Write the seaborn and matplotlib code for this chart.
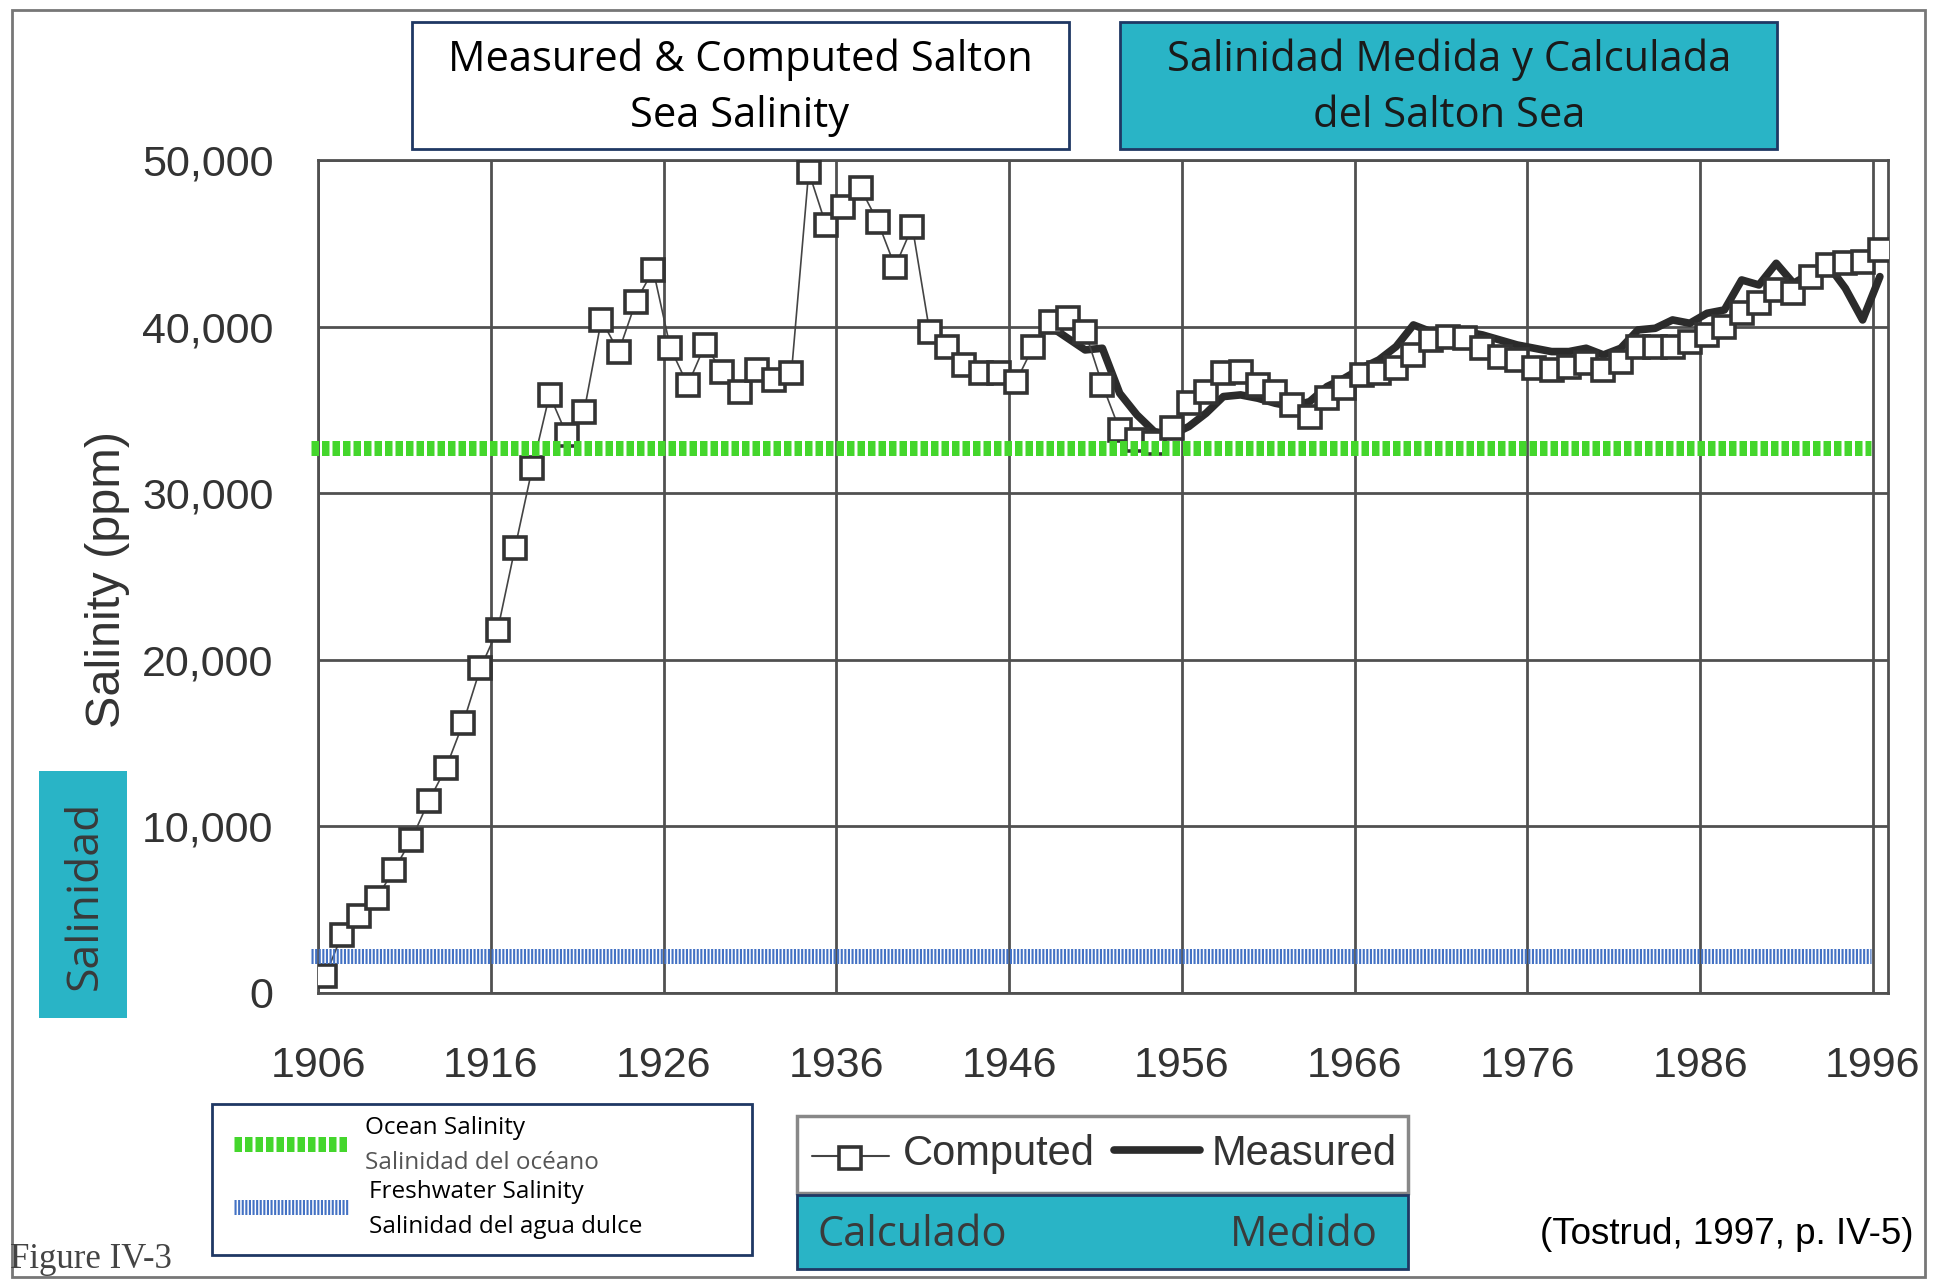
import matplotlib
matplotlib.use("Agg")
import matplotlib.pyplot as plt
import seaborn as sns
import pandas as pd
from matplotlib.patches import Rectangle
from matplotlib.lines import Line2D
from matplotlib.ticker import FuncFormatter

# ---------------- data ----------------
computed_years = list(range(1906, 1997))
computed_salinity = [
    1000, 3500, 4600, 5700, 7400, 9200, 11500, 13500, 16200, 19500,
    21800, 26700, 31500, 35900, 33500, 34900, 40400, 38500, 41500, 43400,
    38700, 36500, 38900, 37300, 36100, 37400, 36800, 37200, 49300, 46100,
    47200, 48300, 46300, 43600, 46000, 39700, 38800, 37700, 37200, 37200,
    36700, 38800, 40300, 40500, 39700, 36500, 33800, 33200, 33000, 33900,
    35400, 36100, 37200, 37300, 36500, 36100, 35300, 34600, 35700, 36300,
    37100, 37200, 37500, 38300, 39200, 39400, 39300, 38700, 38200, 38000,
    37500, 37400, 37600, 37800, 37400, 37900, 38800, 38800, 38800, 39100,
    39500, 40000, 40800, 41400, 42200, 42000, 43000, 43700, 43800, 43900,
    44600,
]
measured_years = list(range(1948, 1997))
measured_salinity = [
    40000, 39300, 38600, 38700, 36000, 34700, 33700, 33500, 34000, 34800,
    35800, 35900, 35700, 35400, 35200, 35500, 36400, 36900, 37500, 38000,
    38800, 40100, 39700, 39800, 39700, 39500, 39200, 38900, 38700, 38500,
    38500, 38700, 38300, 38700, 39800, 39900, 40400, 40200, 40800, 41000,
    42800, 42500, 43800, 42600, 43200, 43700, 42300, 40400, 43000,
]
ocean_salinity = 32700
freshwater_salinity = 2250
reference_span = [1905.6, 1995.9]

x_ticks = list(range(1906, 1997, 10))
y_ticks = [0, 10000, 20000, 30000, 40000, 50000]

title_en = "Measured & Computed Salton\nSea Salinity"
title_es = "Salinidad Medida y Calculada\ndel Salton Sea"
y_label = "Salinity (ppm)"
y_label_es = "Salinidad"
legend_ref = ["Ocean Salinity", "Salinidad del océano",
              "Freshwater Salinity", "Salinidad del agua dulce"]
legend_series = ["Computed", "Measured"]
legend_series_es = ["Calculado", "Medido"]
source_note = "(Tostrud, 1997, p. IV-5)"
figure_note = "Figure IV-3"

# ---------------- style ----------------
sns.set_theme(style="white")
plt.rcParams["font.family"] = ["Liberation Sans", "DejaVu Sans"]

W, H = 1935, 1281
def fx(x):
    return x / W
def fy(y):
    return 1 - y / H

GRID = "#505050"
DARK = "#2b2b2b"
TEAL = "#29b4c6"
NAVY = "#1f3864"
GREEN = "#44d62c"
BLUE = "#4472c4"

fig = plt.figure(figsize=(W / 100, H / 100), dpi=100)
fig.patch.set_facecolor("white")
ax = fig.add_axes([fx(318), fy(993), (1888 - 318) / W, (993 - 160) / H])

df_c = pd.DataFrame({"year": [y + 0.4 for y in computed_years], "salinity": computed_salinity})
df_m = pd.DataFrame({"year": [y + 0.4 for y in measured_years], "salinity": measured_salinity})

sns.lineplot(data=df_m, x="year", y="salinity", ax=ax, color=DARK, lw=5.5,
             zorder=3)
sns.lineplot(data=df_c, x="year", y="salinity", ax=ax, color="#444444", lw=1.2,
             marker="s", markersize=16.5, markerfacecolor="white",
             markeredgecolor="#333333", markeredgewidth=2.6, zorder=4)

# reference levels
ax.plot(reference_span, [ocean_salinity] * 2, color=GREEN, lw=10.8,
        dashes=(0.5, 0.2), dash_capstyle="butt", solid_capstyle="butt",
        clip_on=False, zorder=6)
ax.plot(reference_span, [freshwater_salinity] * 2, color=BLUE, lw=10.8,
        dashes=(0.14, 0.1), dash_capstyle="butt", clip_on=False, zorder=6)

ax.set_xlim(1906, 1996.87)
ax.set_ylim(0, 50000)
ax.set_xticks(x_ticks)
ax.set_xticklabels([str(t) for t in x_ticks])
ax.set_yticks(y_ticks)
ax.yaxis.set_major_formatter(FuncFormatter(lambda v, p: f"{int(v):,}"))
ax.grid(True, color=GRID, lw=2.0)
ax.set_axisbelow(True)
ax.tick_params(axis="both", length=0, colors="#333333")
ax.tick_params(axis="y", labelsize=31, pad=32)
ax.tick_params(axis="x", labelsize=31, pad=38)
for s in ax.spines.values():
    s.set_color(GRID)
    s.set_linewidth(2)
ax.set_xlabel("")
ax.set_ylabel(y_label, fontsize=35, color="#333333")
ax.yaxis.set_label_coords((130 - 318) / 1570, (993 - 580) / 833)

# page border
fig.add_artist(Rectangle((fx(12), fy(1277)), (1925 - 12) / W, (1277 - 10) / H,
                         transform=fig.transFigure, fill=False, ec="#777777", lw=2))

# title boxes
fig.add_artist(Rectangle((fx(412), fy(149)), (1069 - 412) / W, (149 - 22) / H,
                         transform=fig.transFigure, fc="white", ec=NAVY, lw=2))
fig.text(fx(740), fy(88), title_en, ha="center", va="center", fontsize=30,
         family="Open Sans", color="black", linespacing=1.45)
fig.add_artist(Rectangle((fx(1120), fy(149)), (1777 - 1120) / W, (149 - 22) / H,
                         transform=fig.transFigure, fc=TEAL, ec=NAVY, lw=2))
fig.text(fx(1449), fy(88), title_es, ha="center", va="center", fontsize=30,
         family="Open Sans", color="#1a1a1a", linespacing=1.45)

# Salinidad box
fig.add_artist(Rectangle((fx(39), fy(1018)), (127 - 39) / W, (1018 - 771) / H,
                         transform=fig.transFigure, fc=TEAL, ec="none"))
fig.text(fx(85), fy(895), y_label_es, ha="center", va="center", rotation=90,
         fontsize=32, family="Open Sans", color="#3a3a3a")

# legend box 1
fig.add_artist(Rectangle((fx(212), fy(1255)), (752 - 212) / W, (1255 - 1104) / H,
                         transform=fig.transFigure, fc="white", ec=NAVY, lw=2))
fig.add_artist(Line2D([fx(234), fx(348)], [fy(1144), fy(1144)], transform=fig.transFigure,
                      color=GREEN, lw=10.8, dashes=(0.5, 0.2), dash_capstyle="butt"))
fig.add_artist(Line2D([fx(234), fx(348)], [fy(1207), fy(1207)], transform=fig.transFigure,
                      color=BLUE, lw=10.8, dashes=(0.14, 0.1), dash_capstyle="butt"))
fig.text(fx(365), fy(1128), legend_ref[0], ha="left", va="center", fontsize=17.5,
         family="Open Sans", color="black")
fig.text(fx(365), fy(1163), legend_ref[1], ha="left", va="center", fontsize=17.5,
         family="Open Sans", color="#555555")
fig.text(fx(369), fy(1192), legend_ref[2], ha="left", va="center", fontsize=17.5,
         family="Open Sans", color="black")
fig.text(fx(369), fy(1227), legend_ref[3], ha="left", va="center", fontsize=17.5,
         family="Open Sans", color="black")

# legend box 2
fig.add_artist(Rectangle((fx(797), fy(1193)), (1408 - 797) / W, (1193 - 1116) / H,
                         transform=fig.transFigure, fc="white", ec="#888888", lw=2.5))
fig.add_artist(Line2D([fx(812), fx(889)], [fy(1156), fy(1156)], transform=fig.transFigure,
                      color="#444444", lw=1.5))
fig.add_artist(Line2D([fx(850)], [fy(1158)], transform=fig.transFigure, marker="s",
                      markersize=16.5, markerfacecolor="white", markeredgecolor="#333333",
                      markeredgewidth=2.6, lw=0))
fig.text(fx(903), fy(1154), legend_series[0], ha="left", va="center", fontsize=30,
         color="#333333")
fig.add_artist(Line2D([fx(1114), fx(1200)], [fy(1150), fy(1150)], transform=fig.transFigure,
                      color=DARK, lw=5.5))
fig.text(fx(1212), fy(1154), legend_series[1], ha="left", va="center", fontsize=30,
         color="#333333")

fig.add_artist(Rectangle((fx(797), fy(1269)), (1408 - 797) / W, (1269 - 1195) / H,
                         transform=fig.transFigure, fc=TEAL, ec=NAVY, lw=2))
fig.text(fx(817), fy(1235), legend_series_es[0], ha="left", va="center", fontsize=30,
         family="Open Sans", color="#3a3a3a")
fig.text(fx(1378), fy(1235), legend_series_es[1], ha="right", va="center", fontsize=30,
         family="Open Sans", color="#3a3a3a")

fig.text(fx(1913), fy(1235), source_note, ha="right", va="center", fontsize=26.5,
         color="black")
fig.text(fx(10), fy(1259), figure_note, ha="left", va="center", fontsize=25,
         family="Liberation Serif", color="#444444")

fig.savefig("out.png", dpi=100)
